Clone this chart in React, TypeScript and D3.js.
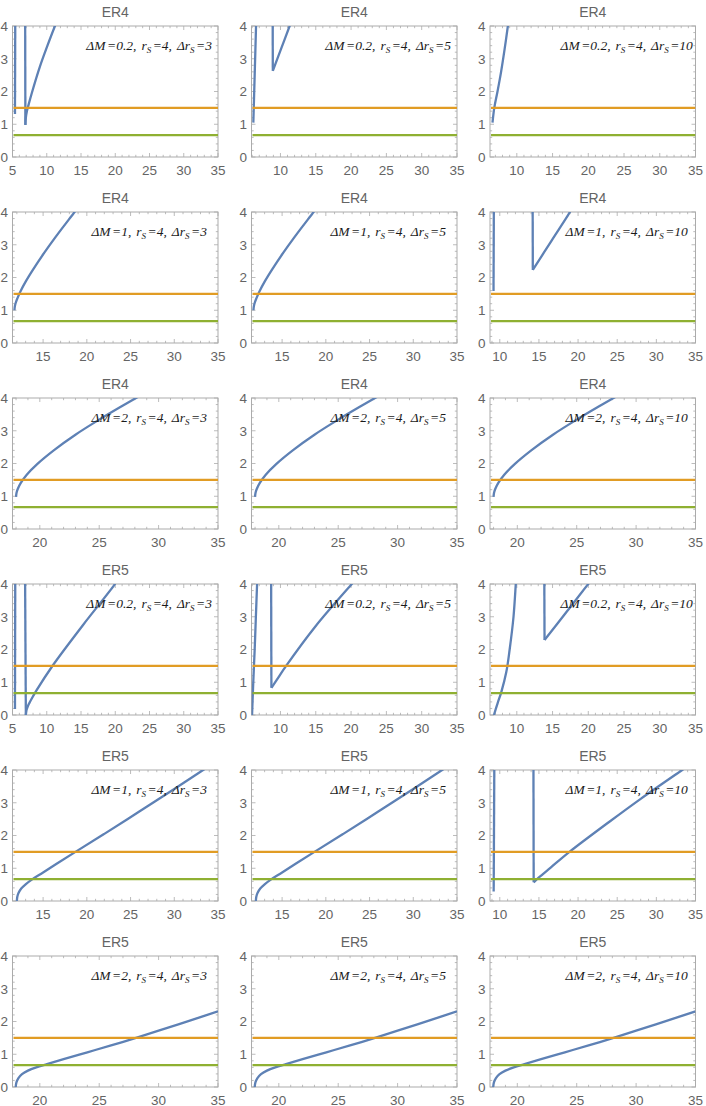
import React from "react";
import * as d3 from "d3";

// ---------- data ----------
const rowTitles = ["ER4", "ER4", "ER4", "ER5", "ER5", "ER5"];
const deltaMLabels = ["0.2", "1", "2", "0.2", "1", "2"];
const deltaRsLabels = ["3", "5", "10"];
const rsLabel = "4";

const xStart = [
  [5, 5.9, 6.25],
  [11.5, 11.5, 8.75],
  [17.7, 17.7, 17.7],
  [5, 5.9, 6.25],
  [11.5, 11.5, 8.75],
  [17.7, 17.7, 17.7],
];
const xEnd = 35;
const yDomain = [0, 4];
const yTicks = [0, 1, 2, 3, 4];
const orangeLevel = 1.5;
const greenLevel = 0.667;

type Pt = [number, number];

// ER4, ΔM = 0.2
const er4dm02dr3: Pt[][] = [
  [[5.36, 1.31], [5.4, 4.05]],
  [[6.85, 4.05], [6.88, 0.98]],
  [[6.88, 0.98], [6.95, 1.2], [7.1, 1.4], [7.3, 1.56], [7.8, 1.94], [9.0, 2.76], [10.1, 3.4], [11.2, 4.0], [11.3, 4.05]],
];
const er4dm02dr5: Pt[][] = [
  [[6.16, 1.05], [6.35, 2.5], [6.55, 4.05]],
  [[8.9, 4.05], [8.92, 2.63]],
  [[8.92, 2.63], [10.1, 3.31], [11.3, 4.0], [11.38, 4.05]],
];
const er4dm02dr10: Pt[][] = [
  [[6.6, 1.05], [6.85, 1.5], [7.3, 2.0], [7.8, 2.6], [8.3, 3.3], [8.75, 4.0], [8.78, 4.05]],
];
// ER4, ΔM = 1
const er4dm1dr3: Pt[][] = [
  [[11.72, 1.0], [11.77, 1.12], [11.87, 1.23], [12.07, 1.37], [12.42, 1.58], [13.02, 1.88], [13.92, 2.27], [15.12, 2.75], [16.52, 3.27], [18.6, 4.0], [18.82, 4.08]],
];
const er4dm1dr5: Pt[][] = [
  [[11.72, 1.0], [11.77, 1.12], [11.87, 1.23], [12.07, 1.37], [12.42, 1.58], [13.02, 1.88], [13.92, 2.27], [15.12, 2.75], [16.52, 3.27], [18.6, 4.0], [18.82, 4.08]],
];
const er4dm1dr10: Pt[][] = [
  [[9.2, 1.59], [9.24, 4.05]],
  [[14.2, 4.05], [14.22, 2.23]],
  [[14.22, 2.23], [16.6, 3.12], [18.96, 4.0], [19.05, 4.05]],
];
// ER4, ΔM = 2
const er4dm2dr3: Pt[][] = [
  [[18.0, 0.98], [18.04, 1.11], [18.15, 1.23], [18.4, 1.41], [18.9, 1.66], [19.8, 1.99], [21.2, 2.41], [23.0, 2.88], [25.0, 3.34], [27.0, 3.77], [28.1, 4.0], [28.5, 4.08]],
];
const er4dm2dr5: Pt[][] = [
  [[18.0, 0.98], [18.04, 1.11], [18.15, 1.23], [18.4, 1.41], [18.9, 1.66], [19.8, 1.99], [21.2, 2.41], [23.0, 2.88], [25.0, 3.34], [27.0, 3.77], [28.1, 4.0], [28.5, 4.08]],
];
const er4dm2dr10: Pt[][] = [
  [[18.0, 0.98], [18.04, 1.11], [18.15, 1.23], [18.4, 1.41], [18.9, 1.66], [19.8, 1.99], [21.2, 2.41], [23.0, 2.88], [25.0, 3.34], [27.0, 3.77], [28.1, 4.0], [28.5, 4.08]],
];
// ER5, ΔM = 0.2
const er5dm02dr3: Pt[][] = [
  [[5.36, 0.18], [5.4, 4.05]],
  [[6.84, 4.05], [6.95, 0.0]],
  [[6.95, 0.0], [7.05, 0.15], [7.3, 0.3], [7.6, 0.42], [8.5, 0.75], [10.9, 1.52], [15.3, 2.75], [19.95, 4.0], [20.05, 4.05]],
];
const er5dm02dr5: Pt[][] = [
  [[5.98, 0.0], [6.15, 1.0], [6.35, 2.0], [6.52, 3.0], [6.7, 4.05]],
  [[8.68, 4.05], [8.72, 0.83]],
  [[8.72, 0.83], [9.5, 1.08], [10.8, 1.5], [15.0, 2.72], [20.1, 4.0], [20.3, 4.05]],
];
const er5dm02dr10: Pt[][] = [
  [[6.8, 0.0], [7.3, 0.35], [7.83, 0.7], [8.53, 1.31], [9.0, 2.0], [9.54, 3.0], [9.86, 4.0], [9.88, 4.05]],
  [[13.85, 4.05], [13.88, 2.29]],
  [[13.88, 2.29], [17.0, 3.16], [20.0, 4.0], [20.2, 4.05]],
];
// ER5, ΔM = 1
const er5dm1dr3: Pt[][] = [
  [[12.0, 0.0], [12.05, 0.13], [12.2, 0.25], [12.5, 0.38], [13.0, 0.51], [13.75, 0.66], [15.0, 0.87], [16.5, 1.13], [18.7, 1.5], [22.0, 2.05], [26.0, 2.73], [30.0, 3.42], [33.3, 4.0], [33.6, 4.05]],
];
const er5dm1dr5: Pt[][] = [
  [[12.0, 0.0], [12.05, 0.13], [12.2, 0.25], [12.5, 0.38], [13.0, 0.51], [13.75, 0.66], [15.0, 0.87], [16.5, 1.13], [18.7, 1.5], [22.0, 2.05], [26.0, 2.73], [30.0, 3.42], [33.3, 4.0], [33.6, 4.05]],
];
const er5dm1dr10: Pt[][] = [
  [[9.22, 0.29], [9.3, 4.05]],
  [[14.3, 4.05], [14.33, 0.57]],
  [[14.33, 0.57], [15.0, 0.72], [16.5, 1.02], [18.9, 1.5], [24.0, 2.42], [28.0, 3.12], [33.3, 4.0], [33.6, 4.05]],
];
// ER5, ΔM = 2
const er5dm2dr3: Pt[][] = [
  [[17.97, 0.0], [18.03, 0.14], [18.2, 0.27], [18.5, 0.39], [19.0, 0.5], [19.7, 0.6], [20.6, 0.7], [22.0, 0.85], [24.0, 1.06], [26.0, 1.27], [28.1, 1.5], [30.0, 1.72], [32.5, 2.01], [35.0, 2.31]],
];
const er5dm2dr5: Pt[][] = [
  [[17.97, 0.0], [18.03, 0.14], [18.2, 0.27], [18.5, 0.39], [19.0, 0.5], [19.7, 0.6], [20.6, 0.7], [22.0, 0.85], [24.0, 1.06], [26.0, 1.27], [28.1, 1.5], [30.0, 1.72], [32.5, 2.01], [35.0, 2.31]],
];
const er5dm2dr10: Pt[][] = [
  [[17.97, 0.0], [18.03, 0.14], [18.2, 0.27], [18.5, 0.39], [19.0, 0.5], [19.7, 0.6], [20.6, 0.7], [22.0, 0.85], [24.0, 1.06], [26.0, 1.27], [28.1, 1.5], [30.0, 1.72], [32.5, 2.01], [35.0, 2.31]],
];

const curves: Pt[][][][] = [
  [er4dm02dr3, er4dm02dr5, er4dm02dr10],
  [er4dm1dr3, er4dm1dr5, er4dm1dr10],
  [er4dm2dr3, er4dm2dr5, er4dm2dr10],
  [er5dm02dr3, er5dm02dr5, er5dm02dr10],
  [er5dm1dr3, er5dm1dr5, er5dm1dr10],
  [er5dm2dr3, er5dm2dr5, er5dm2dr10],
];

// ---------- style / layout ----------
const W = 706;
const H = 1106;
const panelLefts = [12.5, 251.5, 490];
const panelW = 205.5;
const firstTop = 26;
const rowPitch = 186;
const panelH = 131;

const BLUE = "#5E81B5";
const ORANGE = "#E19C24";
const GREEN = "#8FB032";
const FRAME = "#ababab";
const LABEL = "#646464";
const SANS = "'Liberation Sans', Arial, Helvetica, sans-serif";
const SERIF = "'Liberation Serif', 'Times New Roman', Times, serif";

function Panel({ r, c }: { r: number; c: number }) {
  const left = panelLefts[c];
  const top = firstTop + r * rowPitch;
  const x0 = xStart[r][c];
  const x = d3.scaleLinear().domain([x0, xEnd]).range([left, left + panelW]);
  const y = d3.scaleLinear().domain(yDomain).range([top + panelH, top]);
  const bottom = top + panelH;
  const right = left + panelW;

  const line = d3
    .line<Pt>()
    .x((d) => x(d[0]))
    .y((d) => y(d[1]))
    .curve(d3.curveCatmullRom.alpha(0.5));

  const majorX = d3.range(Math.ceil(x0 / 5) * 5, xEnd + 0.001, 5);
  const minorX = d3.range(Math.ceil(x0), xEnd + 0.001, 1).filter((v) => v % 5 !== 0);
  const minorY = d3.range(0, 4.001, 0.2).filter((v) => Math.abs(v - Math.round(v)) > 0.01);

  const clipId = `clip-${r}-${c}`;
  const maj = 4;
  const min = 2.2;

  return (
    <g>
      <defs>
        <clipPath id={clipId}>
          <rect x={left} y={top} width={panelW} height={panelH} />
        </clipPath>
      </defs>
      <text
        x={(left + right) / 2}
        y={top - 9.5}
        textAnchor="middle"
        fontFamily={SANS}
        fontSize={14}
        fill={LABEL}
      >
        {rowTitles[r]}
      </text>
      {/* ticks */}
      <g stroke={FRAME} strokeWidth={0.8}>
        {majorX.map((v) => (
          <g key={`mx${v}`}>
            <line x1={x(v)} x2={x(v)} y1={bottom} y2={bottom - maj} />
            <line x1={x(v)} x2={x(v)} y1={top} y2={top + maj} />
          </g>
        ))}
        {minorX.map((v) => (
          <g key={`nx${v}`}>
            <line x1={x(v)} x2={x(v)} y1={bottom} y2={bottom - min} />
            <line x1={x(v)} x2={x(v)} y1={top} y2={top + min} />
          </g>
        ))}
        {yTicks.map((v) => (
          <g key={`my${v}`}>
            <line x1={left} x2={left + maj} y1={y(v)} y2={y(v)} />
            <line x1={right} x2={right - maj} y1={y(v)} y2={y(v)} />
          </g>
        ))}
        {minorY.map((v) => (
          <g key={`ny${v.toFixed(1)}`}>
            <line x1={left} x2={left + min} y1={y(v)} y2={y(v)} />
            <line x1={right} x2={right - min} y1={y(v)} y2={y(v)} />
          </g>
        ))}
      </g>
      <rect x={left} y={top} width={panelW} height={panelH} fill="none" stroke={FRAME} strokeWidth={1} />
      {/* tick labels */}
      {majorX.map((v) => (
        <text
          key={`lx${v}`}
          x={x(v)}
          y={bottom + 17.5}
          textAnchor="middle"
          fontFamily={SANS}
          fontSize={13.5}
          fill={LABEL}
        >
          {v}
        </text>
      ))}
      {yTicks.map((v) => (
        <text
          key={`ly${v}`}
          x={left - 4.5}
          y={y(v) + 4.8}
          textAnchor="end"
          fontFamily={SANS}
          fontSize={13.5}
          fill={LABEL}
        >
          {v}
        </text>
      ))}
      {/* data */}
      <g clipPath={`url(#${clipId})`} fill="none" strokeLinecap="butt" strokeLinejoin="round">
        {curves[r][c].map((branch, i) => (
          <path key={`b${i}`} d={line(branch) || ""} stroke={BLUE} strokeWidth={2.3} />
        ))}
        <line
          x1={x(x0) + 1}
          x2={x(xEnd)}
          y1={y(orangeLevel)}
          y2={y(orangeLevel)}
          stroke={ORANGE}
          strokeWidth={2.3}
        />
        <line
          x1={x(x0) + 1}
          x2={x(xEnd)}
          y1={y(greenLevel)}
          y2={y(greenLevel)}
          stroke={GREEN}
          strokeWidth={2.3}
        />
      </g>
      {/* annotation */}
      <text
        x={left + panelW * 0.665}
        y={top + 24}
        textAnchor="middle"
        fontFamily={SERIF}
        fontStyle="italic"
        fontSize={13.5}
        fill="#1a1a1a"
      >
        <tspan>ΔM</tspan>
        <tspan dx={1.5}>{`=${deltaMLabels[r]},`}</tspan>
        <tspan dx={5}>r</tspan>
        <tspan dy={3} fontSize={9}>S</tspan>
        <tspan dy={-3} dx={1.5}>{`=${rsLabel},`}</tspan>
        <tspan dx={5}>Δr</tspan>
        <tspan dy={3} fontSize={9}>S</tspan>
        <tspan dy={-3} dx={1.5}>{`=${deltaRsLabels[c]}`}</tspan>
      </text>
    </g>
  );
}

export default function App() {
  const cells: { r: number; c: number }[] = [];
  for (let r = 0; r < rowTitles.length; r++) {
    for (let c = 0; c < deltaRsLabels.length; c++) cells.push({ r, c });
  }
  return (
    <svg
      width={W}
      height={H}
      viewBox={`0 0 ${W} ${H}`}
      style={{ position: "absolute", left: 0, top: 0, background: "#fff" }}
    >
      <rect x={0} y={0} width={W} height={H} fill="#fff" />
      {cells.map(({ r, c }) => (
        <Panel key={`${r}-${c}`} r={r} c={c} />
      ))}
    </svg>
  );
}
